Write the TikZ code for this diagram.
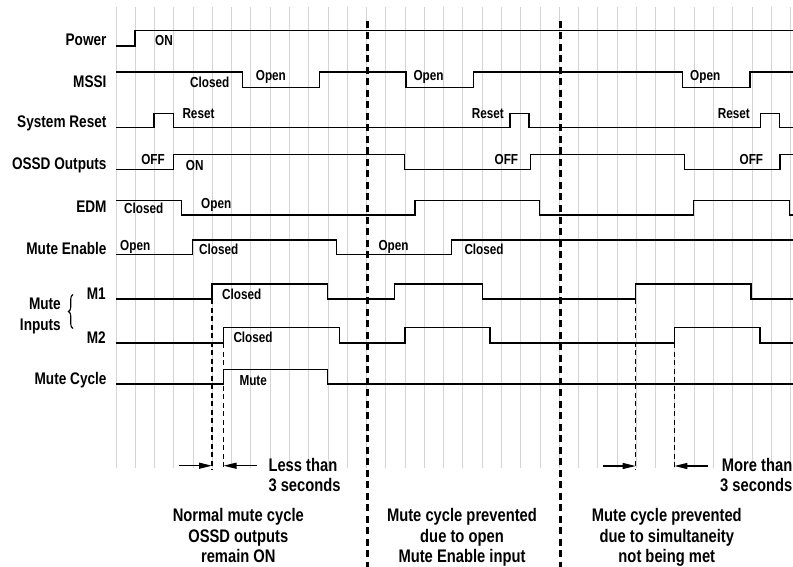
\documentclass[tikz,border=0pt]{standalone}
\usepackage{fontspec}
\setmainfont{Liberation Sans}[FakeStretch=0.81]
\usetikzlibrary{arrows.meta,decorations.pathreplacing}
\begin{document}
\begin{tikzpicture}[x=1pt,y=-1pt,
  sig/.style={line width=1.3pt},
  gridln/.style={draw=black!17, line width=0.8pt},
  divider/.style={line width=3pt, dash pattern=on 7pt off 4.5pt},
  marker/.style={line width=1.1pt, dash pattern=on 5pt off 3.5pt},
  arr/.style={line width=1.3pt, -{Triangle[length=13pt,width=6pt]}},
  mainlbl/.style={font=\fontsize{16.8}{19}\selectfont\bfseries, inner sep=0pt, anchor=base east},
  smalllbl/.style={font=\fontsize{14.5}{16}\selectfont\bfseries, inner sep=0pt, anchor=base west},
  smallr/.style={font=\fontsize{14.5}{16}\selectfont\bfseries, inner sep=0pt, anchor=base east},
  notelbl/.style={font=\fontsize{18.2}{20.5}\selectfont\bfseries, inner sep=0pt, align=center, anchor=north},
  sidelbl/.style={font=\fontsize{18.2}{20.5}\selectfont\bfseries, inner sep=0pt}
]
\useasboundingbox (0,0) rectangle (793,567);
% grid
\foreach \i in {0,...,35} \draw[gridln] ({116+19.27*\i},7) -- ({116+19.27*\i},468);
% dividers
\draw[divider] (367.5,21) -- (367.5,567);
\draw[divider] (560,21) -- (560,567);
% signals
\draw[sig] (116,46) -| (135,30.7) -- (793,30.7);
\draw[sig] (116,72) -| (242.3,87.3) -| (319.3,72) -| (406,87.3) -| (473.3,72) -| (682.7,87.3) -| (750,72) -- (793,72);
\draw[sig] (116,127.7) -| (154,113.3) -| (173.3,127.7) -| (510,113.3) -| (529,127.7) -| (760.3,113.3) -| (779.3,127.7) -- (793,127.7);
\draw[sig] (116,169.7) -| (173.3,154.3) -| (404.3,169.7) -| (530.7,154.3) -| (684.3,169.7) -| (780,154.3) -- (793,154.3);
\draw[sig] (116,200.7) -| (181.7,215) -| (415,200.7) -| (539.3,215) -| (693.3,200.7) -| (789.3,215) -- (793,215);
\draw[sig] (116,254.3) -| (192.7,240) -| (336.7,254.3) -| (451.7,240) -- (793,240);
\draw[sig] (116,299) -| (212,284) -| (327.7,299) -| (394.3,284) -| (482.3,299) -| (635.7,284) -| (751,299) -- (793,299);
\draw[sig] (116,343) -| (223.5,327.7) -| (339.3,343) -| (405,327.7) -| (490,343) -| (674.3,327.7) -| (760,343) -- (793,343);
\draw[sig] (116,384) -| (223.5,369.3) -| (327.7,384) -- (793,384);
% timing markers
\coordinate (m1a) at (212,299);   \coordinate (m1b) at (212,470);
\coordinate (m2a) at (223.5,343); \coordinate (m2b) at (223.5,470);
\coordinate (m3a) at (635.7,299); \coordinate (m3b) at (635.7,470);
\coordinate (m4a) at (674.3,343); \coordinate (m4b) at (674.3,470);
\draw[marker] (m1a) -- (m1b);
\draw[marker] (m2a) -- (m2b);
\draw[marker] (m3a) -- (m3b);
\draw[marker] (m4a) -- (m4b);
\coordinate (a1s) at (179.3,465.7); \coordinate (a1e) at (212,465.7);
\coordinate (a2s) at (256.7,465.7); \coordinate (a2e) at (223.5,465.7);
\coordinate (a3s) at (602.7,466);   \coordinate (a3e) at (635.7,466);
\coordinate (a4s) at (707.7,466);   \coordinate (a4e) at (674.3,466);
\draw[arr] (a1s) -- (a1e);
\draw[arr] (a2s) -- (a2e);
\draw[arr] (a3s) -- (a3e);
\draw[arr] (a4s) -- (a4e);
% left labels
\node[mainlbl] (lpow) at (106.7,46) {Power};
\node[mainlbl] (lmssi) at (106.7,88) {MSSI};
\node[mainlbl] (lrst) at (106.7,127.5) {System Reset};
\node[mainlbl] (lossd) at (106.7,169.7) {OSSD Outputs};
\node[mainlbl] (ledm) at (106.7,212) {EDM};
\node[mainlbl] (lme) at (106.7,254.3) {Mute Enable};
\node[mainlbl] (lm1) at (106,299) {M1};
\node[mainlbl] (lm2) at (106,343) {M2};
\node[mainlbl] (lmc) at (106.7,384.3) {Mute Cycle};
\node[mainlbl] (lmute) at (61,309.3) {Mute};
\node[mainlbl] (linp) at (61,330) {Inputs};
\draw[line width=1.1pt, decorate, decoration={brace, amplitude=4.5pt}] (73,328.5) -- (73,294.5);
% state labels
\node[smalllbl] (son) at (155,46) {ON};
\node[smalllbl] (sc1) at (190,87.7) {Closed};
\node[smalllbl] (so1) at (255.7,81) {Open};
\node[smalllbl] (so2) at (413.3,81) {Open};
\node[smalllbl] (so3) at (690,81) {Open};
\node[smalllbl] (sr1) at (182.3,119) {Reset};
\node[smallr] (sr2) at (504,119) {Reset};
\node[smallr] (sr3) at (750,119) {Reset};
\node[smallr] (sf1) at (165,165) {OFF};
\node[smalllbl] (sn1) at (185.7,170.3) {ON};
\node[smallr] (sf2) at (518.3,165) {OFF};
\node[smallr] (sf3) at (763.3,165) {OFF};
\node[smalllbl] (sec) at (124,214) {Closed};
\node[smalllbl] (seo) at (201,208.5) {Open};
\node[smalllbl] (smo1) at (120,250.7) {Open};
\node[smalllbl] (smc1) at (199,254) {Closed};
\node[smalllbl] (smo2) at (378.3,250.7) {Open};
\node[smalllbl] (smc2) at (464.3,254) {Closed};
\node[smalllbl] (sm1c) at (222,299) {Closed};
\node[smalllbl] (sm2c) at (233.3,342.7) {Closed};
\node[smalllbl] (smute) at (239.3,385) {Mute};
% timing notes
\node[sidelbl, anchor=base west] (lt1) at (268.3,471.7) {Less than};
\node[sidelbl, anchor=base west] (lt2) at (268.3,491.7) {3 seconds};
\node[sidelbl, anchor=base east] (mt1) at (792.5,471.7) {More than};
\node[sidelbl, anchor=base east] (mt2) at (792.5,491.7) {3 seconds};
% bottom captions
\node[notelbl] (c1) at (238.3,508.5) {Normal mute cycle\\OSSD outputs\\remain ON};
\node[notelbl] (c2) at (462,508.5) {Mute cycle prevented\\due to open\\Mute Enable input};
\node[notelbl] (c3) at (666.8,508.5) {Mute cycle prevented\\due to simultaneity\\not being met};
\end{tikzpicture}
\end{document}
